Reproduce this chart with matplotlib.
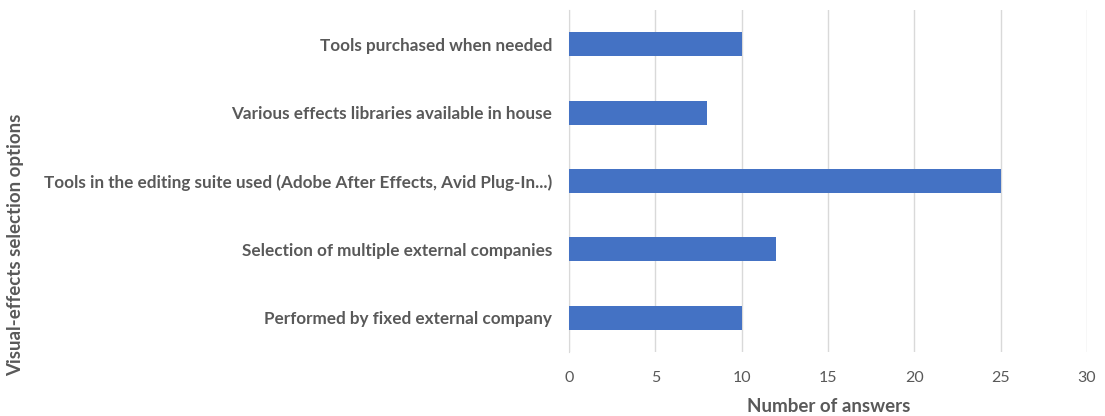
import matplotlib.pyplot as plt

categories = [
    "Performed by fixed external company",
    "Selection of multiple external companies",
    "Tools in the editing suite used (Adobe After Effects, Avid Plug-In...)",
    "Various effects libraries available in house",
    "Tools purchased when needed",
]
answers = [10, 12, 25, 8, 10]
xticks = [0, 5, 10, 15, 20, 25, 30]

text_grey = "#595959"
bar_blue = "#4472C4"
grid_grey = "#D9D9D9"

plt.rcParams["font.family"] = ["Lato", "DejaVu Sans"]

fig = plt.figure(figsize=(11.05, 4.16), dpi=100)
ax = fig.add_axes([569 / 1105, 1 - 352 / 416, (1087 - 569) / 1105, (352 - 10) / 416])

ax.barh(range(len(categories)), answers, height=0.35, color=bar_blue, zorder=3)

ax.set_xlim(0, 30)
ax.set_ylim(-0.5, len(categories) - 0.5)
ax.set_xticks(xticks)
ax.set_xticklabels([str(t) for t in xticks], fontsize=11.5, color=text_grey)
ax.set_yticks(range(len(categories)))
ax.set_yticklabels(categories, fontsize=12.3, fontweight="bold", color=text_grey)

ax.xaxis.grid(True, color=grid_grey, linewidth=1, zorder=0)
ax.tick_params(axis="both", length=0)
ax.tick_params(axis="x", pad=14)
ax.tick_params(axis="y", pad=12)
for side in ["top", "right", "bottom"]:
    ax.spines[side].set_visible(False)
ax.spines["left"].set_color(grid_grey)

fig.text(829 / 1105, 1 - 407 / 416, "Number of answers", ha="center", va="center",
         fontsize=13.5, fontweight="bold", color=text_grey)
fig.text(16 / 1105, 1 - 245 / 416, "Visual-effects selection options", ha="center",
         va="center", rotation=90, fontsize=13.5, fontweight="bold", color=text_grey)

fig.savefig("out.png", dpi=100)
